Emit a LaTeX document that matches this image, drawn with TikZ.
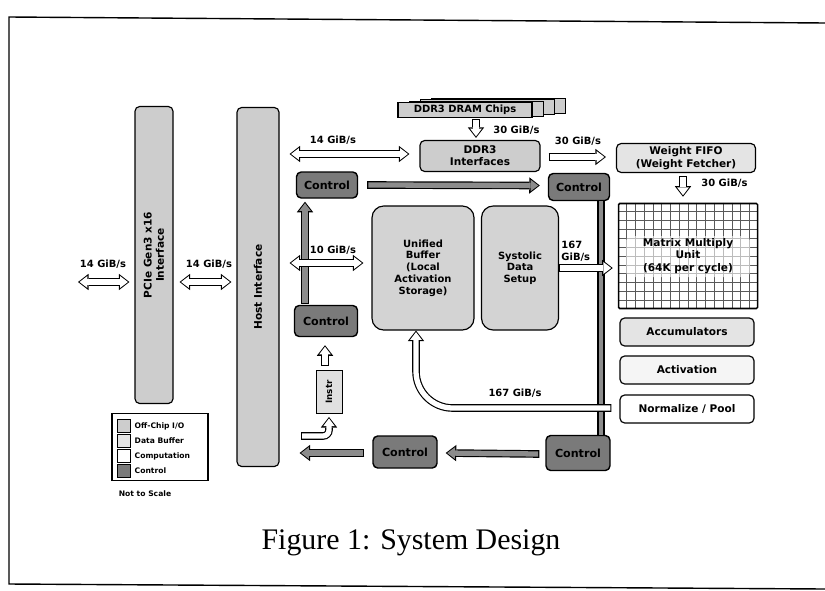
\documentclass[tikz,border=0pt]{standalone}
\usepackage{fontspec}
\setmainfont{Liberation Serif}
\newfontfamily\lblfont{DejaVu Sans}
\usetikzlibrary{arrows.meta,calc,positioning,backgrounds}
\definecolor{iofill}{HTML}{CDCDCD}
\definecolor{buffill}{HTML}{D3D3D3}
\definecolor{lite}{HTML}{E4E4E4}
\definecolor{ctlfill}{HTML}{7A7A7A}
\definecolor{shaft}{HTML}{8C8C8C}
\tikzset{
  tipo/.tip={Triangle[length=9pt,width=14pt,line width'=0pt]},
  tipi/.tip={Triangle[length=6.6pt,width=10pt,line width'=0pt]},
  sz/.style 2 args={minimum width=#1*0.03cm, minimum height=#2*0.03cm},
  blk/.style={draw, line width=1pt, rounded corners=4pt, align=center, inner sep=1pt,
    font=\lblfont\bfseries\fontsize{9}{10.5}\selectfont},
  io/.style={blk, fill=iofill},
  buf/.style={blk, fill=buffill, rounded corners=10pt, font=\lblfont\bfseries\fontsize{8.5}{10}\selectfont},
  comp/.style={blk, fill=#1},
  comp/.default=white,
  ctl/.style={blk, fill=ctlfill, line width=1.2pt, font=\lblfont\bfseries\fontsize{9.5}{11}\selectfont},
  rate/.style={font=\lblfont\bfseries\fontsize{8.5}{10}\selectfont, inner sep=1pt, align=left},
  fat/.style={draw=black, line width=6.5pt, -tipo,
    postaction={draw=#1, line width=4.5pt, -tipi, shorten >=1.3pt, shorten <=1pt}},
  fat/.default=white,
  fat2/.style={draw=black, line width=6.5pt, tipo-tipo,
    postaction={draw=white, line width=4.5pt, tipi-tipi, shorten >=1.3pt, shorten <=1.3pt}},
  bus/.style={draw=black, line width=6pt, postaction={draw=shaft, line width=3.5pt}},
  gridln/.style={draw=black!65, line width=0.6pt},
  key/.style={draw, line width=0.8pt, minimum size=13*0.03cm, inner sep=0pt},
  keytxt/.style={font=\lblfont\bfseries\fontsize{6.5}{7.5}\selectfont, inner sep=1pt},
}

\begin{document}
\begin{tikzpicture}[x=0.03cm, y=-0.03cm]
  \useasboundingbox (0,0) rectangle (825,590);
  % page frame of the photo
  \draw[line width=1.2pt] (825,23) -- (9,17) -- (9,584) -- (825,589);

  % off-chip side
  \node[io, rotate=90, sz={297}{38}] (pcie) at (154,255) {PCIe Gen3 x16\\Interface};
  \node[io, rotate=90, sz={359}{42}] (host) at (258,287) {Host Interface};

  % legend
  \node[draw, line width=1pt, sz={96}{67}, inner sep=0pt] (legend) at (160,447) {};
  \node[key, fill=iofill] (k1) at (124,426) {};
  \node[key, fill=lite] (k2) at (124,441) {};
  \node[key, fill=white] (k3) at (124,456) {};
  \node[key, fill=ctlfill] (k4) at (124,471) {};
  \node[keytxt, right=2pt of k1] (t1) {Off-Chip I/O};
  \node[keytxt, right=2pt of k2] (t2) {Data Buffer};
  \node[keytxt, right=2pt of k3] (t3) {Computation};
  \node[keytxt, right=2pt of k4] (t4) {Control};
  \node[keytxt] (nts) at (145,494) {Not to Scale};

  % DRAM chips, stacked
  \foreach \k in {3,2,1}
    \node[draw, fill=iofill, line width=0.8pt, sz={134}{15}] (chip\k) at (465+11*\k,110-1.5*\k) {};
  \node[io, rounded corners=0pt, sz={134}{15}, font=\lblfont\bfseries\fontsize{8.5}{9}\selectfont] (chips) at (465,110) {DDR3 DRAM Chips};

  % on-chip blocks
  \node[io, sz={120}{31}] (ddrif) at (480,156) {DDR3\\Interfaces};
  \node[comp=lite, sz={139}{29}] (wfifo) at (686,158) {Weight FIFO\\(Weight Fetcher)};
  \node[blk, rounded corners=1pt, line width=1.3pt, sz={139}{105}] (mmu) at (688,256) {Matrix Multiply\\Unit\\(64K per cycle)};
  \node[comp=lite, sz={134}{28}] (acc) at (687,332) {Accumulators};
  \node[comp=black!4, sz={134}{28}] (act) at (687,370) {Activation};
  \node[comp, sz={134}{28}] (norm) at (687,409) {Normalize / Pool};
  \node[buf, sz={102}{124}] (ub) at (423,268) {Unified\\Buffer\\(Local\\Activation\\Storage)};
  \node[buf, sz={77}{124}] (sds) at (520,268) {Systolic\\Data\\Setup};

  \node[ctl, sz={61}{26}] (c1) at (327,185) {Control};
  \node[ctl, sz={61}{27}] (c2) at (579,187) {Control};
  \node[ctl, sz={63}{31}] (c3) at (326,321) {Control};
  \node[ctl, sz={64}{32}] (c4) at (405,452) {Control};
  \node[ctl, sz={64}{35}] (c5) at (578,453) {Control};
  \node[draw, line width=0.8pt, fill=black!12, rotate=90, sz={43}{26}, inner sep=0pt,
    font=\lblfont\bfseries\fontsize{7.5}{8}\selectfont] (instr) at (329,392) {Instr};

  % systolic grid behind the multiply unit
  \begin{scope}[on background layer]
    \fill[white] (mmu.south west) rectangle (mmu.north east);
    \foreach \k in {1,...,15}
      \draw[gridln] ($(mmu.north west)!\k/16!(mmu.north east)$) -- ($(mmu.south west)!\k/16!(mmu.south east)$);
    \foreach \k in {1,...,11}
      \draw[gridln] ($(mmu.north west)!\k/12!(mmu.south west)$) -- ($(mmu.north east)!\k/12!(mmu.south east)$);
    \fill[white, fill opacity=0.6, rounded corners=4pt] ($(mmu.center)+(-62,-20)$) rectangle ($(mmu.center)+(62,21)$);
  \end{scope}

  % host links
  \coordinate (ext) at (78,282);
  \draw[fat2] (ext) -- ($(pcie.north |- ext)+(-5,0)$);
  \node[rate] (r1) at (103,264) {14 GiB/s};
  \draw[fat2] ($(pcie.south |- ext)+(6,0)$) -- ($(host.north |- ext)+(-5,0)$);
  \node[rate] (r2) at (209,264) {14 GiB/s};
  \draw[fat2] ($(host.south |- ddrif)+(10,-2)$) -- ($(ddrif.west)+(-10,-2)$);
  \node[rate] (r3) at (333,140) {14 GiB/s};

  % weights path
  \draw[fat] ($(chips.south)+(11,1)$) -- ($(ddrif.north)+(-4,-2)$);
  \node[rate, anchor=west] (r4) at (492,130) {30 GiB/s};
  \draw[fat] ($(ddrif.east)+(8,1)$) -- ($(ddrif.east -| wfifo.west)+(-10,1)$);
  \node[rate] (r5) at (578,141) {30 GiB/s};
  \draw[fat] ($(wfifo.south)+(-3,3)$) -- ($(mmu.north)+(-5,-6)$);
  \node[rate, anchor=west] (r6) at (700,183) {30 GiB/s};

  % control
  \draw[bus] ($(c2.south)+(22,0)$) -- ($(c5.north)+(23,0)$);
  \draw[fat=shaft] ($(c1.east)+(9,0)$) -- ($(c2.west)+(-8,-1.5)$);
  \draw[fat=shaft] ($(c3.north)+(-21,-1)$) -- ($(c1.south)+(-22,3)$);
  \draw[fat=shaft] ($(c5.west)+(-6,1)$) -- ($(c4.east)+(8,1)$);
  \draw[fat=shaft] ($(c4.west)+(-8,1)$) -- ($(host.south |- c4.west)+(20,1)$);

  % activations
  \draw[fat2] ($(host.south |- ub)+(10,-5)$) -- ($(ub.west)+(-8,-5)$);
  \node[rate] (r7) at (333,250) {10 GiB/s};
  \draw[fat] (sds.east) -- ($(mmu.west)+(-5,12)$);
  \node[rate, anchor=west] (r8) at (560,251) {167\\GiB/s};
  \coordinate (ret) at ($(norm.west)+(-8,-1)$);
  \draw[fat, rounded corners=1.1cm] (ret) -- ($(ret -| ub.south)+(-7,0)$) -- ($(ub.south)+(-7,0)$);
  \node[rate] (r9) at (515,393) {167 GiB/s};

  % instructions
  \draw[fat] ($(instr.east)+(-4,-4)$) -- ($(c3.south)+(-1,8)$);
  \coordinate (hk) at (301,436);
  \draw[fat, rounded corners=0.18cm] (hk) -- (hk -| instr.west) -- ($(instr.west)+(0,3)$);

  \node[font=\fontsize{25.5}{30}\selectfont] (cap) at (411,543) {Figure 1: System Design};
\end{tikzpicture}
\end{document}
